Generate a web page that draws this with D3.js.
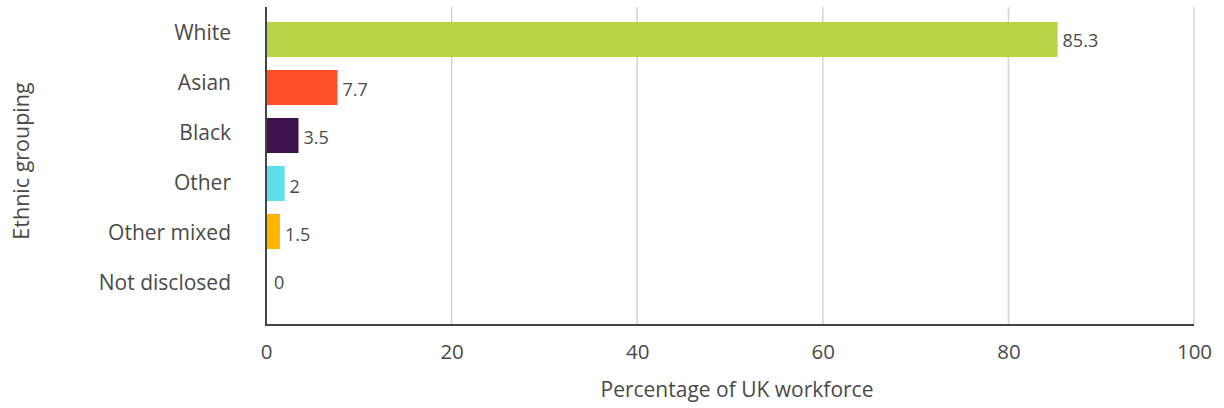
<!DOCTYPE html>
<html>
<head>
<meta charset="utf-8">
<script src="https://cdn.jsdelivr.net/npm/d3@7"></script>
<style>
  html, body { margin: 0; padding: 0; background: #fff; }
  svg { display: block; font-family: "Open Sans", sans-serif; }
</style>
</head>
<body>
<svg id="chart" width="1224" height="408"></svg>
<script>
const categories = ["White", "Asian", "Black", "Other", "Other mixed", "Not disclosed"];
const values = [85.3, 7.7, 3.5, 2, 1.5, 0];
const colors = ["#b7d444", "#ff4f29", "#3f1350", "#5cdfe8", "#ffb400", "#cccccc"];
const xTicks = [0, 20, 40, 60, 80, 100];
const xTitle = "Percentage of UK workforce";
const yTitle = "Ethnic grouping";

const svg = d3.select("#chart");
const mLeft = 266, mRight = 1194, mTop = 7, mBottom = 325;
const textColor = "#4a4a4a";
const fontFam = "'Open Sans', sans-serif";

const x = d3.scaleLinear().domain([0, 100]).range([mLeft, mRight]);
const y = d3.scaleBand().domain(categories).range([15.5, 303.5]).paddingInner(0.27).paddingOuter(0.135);
const yLabel = d3.scalePoint().domain(categories).range([33, 283]);
const yValue = d3.scalePoint().domain(categories).range([41, 283]);

// gridlines
svg.append("g").selectAll("line").data(xTicks.filter(t => t > 0)).join("line")
  .attr("x1", d => x(d)).attr("x2", d => x(d))
  .attr("y1", mTop).attr("y2", mBottom)
  .attr("stroke", "#d4d4d4").attr("stroke-width", 1.5);

// bars
svg.append("g").selectAll("rect").data(categories).join("rect")
  .attr("x", x(0))
  .attr("y", d => y(d))
  .attr("width", (d, i) => x(values[i]) - x(0))
  .attr("height", y.bandwidth())
  .attr("fill", (d, i) => colors[i]);

// value labels
svg.append("g").selectAll("text").data(categories).join("text")
  .attr("x", (d, i) => x(values[i]) + (values[i] === 0 ? 8 : 5))
  .attr("y", d => yValue(d))
  .attr("dy", "0.35em")
  .attr("fill", textColor)
  .attr("font-size", 18)
  .attr("font-family", fontFam)
  .text((d, i) => values[i]);

// axes lines
svg.append("line").attr("x1", mLeft).attr("x2", mLeft).attr("y1", mTop).attr("y2", mBottom + 1)
  .attr("stroke", "#444").attr("stroke-width", 2);
svg.append("line").attr("x1", mLeft - 1).attr("x2", mRight).attr("y1", mBottom).attr("y2", mBottom)
  .attr("stroke", "#444").attr("stroke-width", 2);

// x tick labels
const xAxis = d3.axisBottom(x).tickValues(xTicks).tickSize(0).tickPadding(0).tickFormat(d3.format("d"));
const gx = svg.append("g").attr("transform", `translate(0, ${mBottom + 19})`).call(xAxis);
gx.select(".domain").remove();
gx.selectAll("text").attr("font-size", 20.5).attr("fill", textColor).attr("font-family", fontFam);

// y category labels
const yAxis = d3.axisLeft(yLabel).tickSize(0).tickPadding(0);
const gy = svg.append("g").attr("transform", `translate(${mLeft - 35}, 0)`).call(yAxis);
gy.select(".domain").remove();
gy.selectAll("text").attr("font-size", 21).attr("fill", textColor).attr("font-family", fontFam);

// titles
svg.append("text").attr("x", 737).attr("y", 397)
  .attr("text-anchor", "middle").attr("font-size", 21).attr("fill", textColor)
  .attr("font-family", fontFam)
  .text(xTitle);
svg.append("text").attr("transform", "translate(29, 161) rotate(-90)")
  .attr("text-anchor", "middle").attr("font-size", 21.5).attr("fill", textColor)
  .attr("font-family", fontFam)
  .text(yTitle);
</script>
</body>
</html>
